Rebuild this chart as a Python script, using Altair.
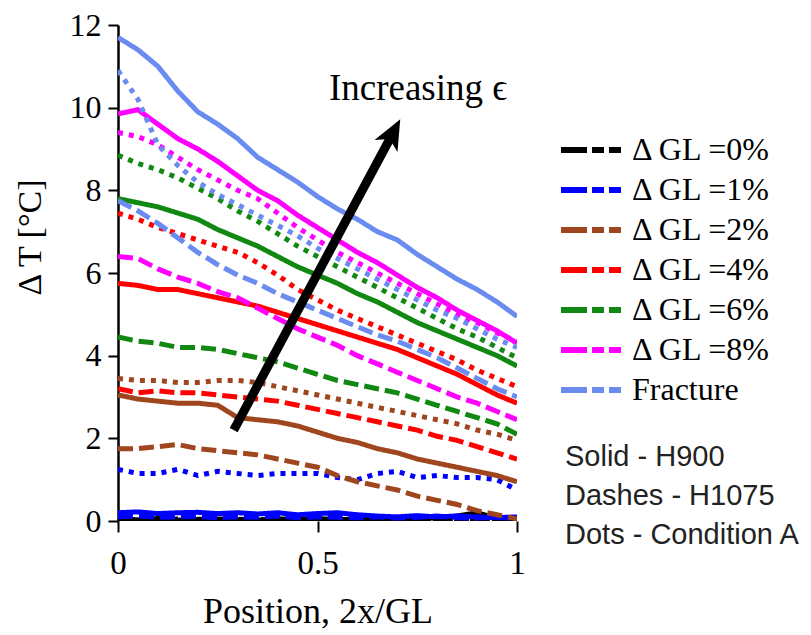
import altair as alt
import pandas as pd

# ---------------- data ----------------
positions = [0.0, 0.05, 0.1, 0.15, 0.2, 0.25, 0.3, 0.35, 0.4, 0.45, 0.5,
             0.55, 0.6, 0.65, 0.7, 0.75, 0.8, 0.85, 0.9, 0.95, 1.0]

levels = ["\u0394 GL =0%", "\u0394 GL =1%", "\u0394 GL =2%", "\u0394 GL =4%",
          "\u0394 GL =6%", "\u0394 GL =8%", "\u00a0\u00a0\u00a0Fracture"]
level_colors = ["#000000", "#0000ff", "#a0461e", "#ff0000", "#118811", "#ff00ff", "#6a8cf0"]
styles = ["Solid", "Dashes", "Dots"]

gl0_solid = [0.05, 0.03, 0.06, 0.02, 0.04, 0.05, 0.03, 0.02, 0.05, 0.04, 0.06,
             0.03, 0.05, 0.07, 0.04, 0.06, 0.08, 0.12, 0.2, 0.06, 0.04]
gl0_dash = [0.02, 0.03, 0.02, 0.04, 0.03, 0.02, 0.03, 0.02, 0.03, 0.04, 0.02,
            0.03, 0.02, 0.04, 0.03, 0.02, 0.03, 0.05, 0.04, 0.03, 0.02]
gl0_dots = [0.04, 0.02, 0.03, 0.05, 0.02, 0.03, 0.04, 0.03, 0.02, 0.05, 0.03,
            0.04, 0.03, 0.02, 0.04, 0.03, 0.05, 0.03, 0.04, 0.02, 0.03]

gl1_solid = [0.2, 0.22, 0.18, 0.2, 0.21, 0.18, 0.2, 0.17, 0.2, 0.15, 0.18,
             0.2, 0.15, 0.12, 0.1, 0.13, 0.1, 0.12, 0.1, 0.08, 0.1]
gl1_dash = [0.1, 0.12, 0.09, 0.1, 0.11, 0.08, 0.1, 0.09, 0.12, 0.08, 0.1,
            0.09, 0.08, 0.1, 0.07, 0.09, 0.12, 0.08, 0.07, 0.09, 0.06]
gl1_dots = [1.25, 1.15, 1.15, 1.25, 1.1, 1.2, 1.15, 1.1, 1.15, 1.15, 1.15,
            1.05, 1.0, 1.15, 1.2, 1.05, 1.1, 1.05, 1.05, 1.0, 0.75]

gl2_solid = [3.05, 2.95, 2.9, 2.85, 2.85, 2.8, 2.5, 2.45, 2.4, 2.3, 2.15,
             2.0, 1.9, 1.75, 1.65, 1.5, 1.4, 1.3, 1.2, 1.1, 0.95]
gl2_dash = [1.75, 1.75, 1.8, 1.85, 1.75, 1.7, 1.65, 1.6, 1.5, 1.4, 1.3,
            1.1, 0.95, 0.85, 0.75, 0.6, 0.5, 0.4, 0.25, 0.15, 0.05]
gl2_dots = [3.45, 3.4, 3.4, 3.35, 3.35, 3.4, 3.4, 3.35, 3.25, 3.15, 3.05,
            2.95, 2.85, 2.75, 2.65, 2.55, 2.45, 2.35, 2.2, 2.1, 1.95]

gl4_solid = [5.75, 5.7, 5.6, 5.6, 5.5, 5.4, 5.3, 5.2, 5.05, 4.9, 4.75,
             4.6, 4.45, 4.3, 4.15, 3.95, 3.75, 3.55, 3.3, 3.05, 2.85]
gl4_dash = [3.2, 3.1, 3.15, 3.1, 3.1, 3.05, 3.0, 2.95, 2.9, 2.8, 2.7,
            2.6, 2.5, 2.4, 2.3, 2.2, 2.05, 1.95, 1.8, 1.65, 1.5]
gl4_dots = [7.45, 7.3, 7.1, 6.95, 6.8, 6.65, 6.5, 6.25, 5.95, 5.6, 5.35,
            5.1, 4.9, 4.7, 4.5, 4.3, 4.1, 3.9, 3.65, 3.45, 3.25]

gl6_solid = [7.8, 7.7, 7.6, 7.45, 7.3, 7.05, 6.85, 6.65, 6.4, 6.15, 5.95,
             5.75, 5.5, 5.3, 5.05, 4.8, 4.6, 4.4, 4.2, 4.0, 3.75]
gl6_dash = [4.45, 4.35, 4.3, 4.2, 4.2, 4.15, 4.05, 3.95, 3.85, 3.7, 3.55,
            3.4, 3.3, 3.2, 3.1, 2.95, 2.8, 2.65, 2.5, 2.35, 2.1]
gl6_dots = [8.85, 8.65, 8.5, 8.3, 8.05, 7.8, 7.5, 7.25, 6.95, 6.65, 6.4,
            6.15, 5.9, 5.65, 5.4, 5.15, 4.9, 4.65, 4.45, 4.2, 3.95]

gl8_solid = [9.85, 9.95, 9.6, 9.25, 9.0, 8.7, 8.35, 8.0, 7.75, 7.4, 7.1,
             6.8, 6.5, 6.25, 5.95, 5.65, 5.4, 5.1, 4.85, 4.6, 4.3]
gl8_dash = [6.4, 6.35, 6.1, 5.9, 5.75, 5.55, 5.4, 5.15, 4.9, 4.65, 4.45,
            4.25, 4.0, 3.8, 3.6, 3.4, 3.2, 3.0, 2.85, 2.65, 2.45]
gl8_dots = [9.4, 9.3, 9.1, 8.8, 8.5, 8.25, 8.0, 7.8, 7.45, 7.1, 6.8,
            6.5, 6.25, 6.0, 5.75, 5.5, 5.25, 5.0, 4.8, 4.55, 4.35]

frac_solid = [11.7, 11.4, 11.0, 10.4, 9.9, 9.6, 9.25, 8.8, 8.5, 8.2, 7.85,
              7.55, 7.3, 7.0, 6.8, 6.45, 6.15, 5.85, 5.6, 5.3, 4.95]
frac_dash = [7.75, 7.5, 7.2, 6.85, 6.5, 6.2, 5.95, 5.75, 5.5, 5.3, 5.1,
             4.9, 4.7, 4.5, 4.35, 4.15, 3.95, 3.7, 3.45, 3.2, 3.0]
frac_dots = [10.9, 10.2, 9.1, 8.6, 8.2, 7.9, 7.65, 7.4, 7.15, 6.9, 6.6,
             6.35, 6.1, 5.85, 5.6, 5.35, 5.1, 4.9, 4.65, 4.4, 4.2]

series = [
    (levels[0], "Solid", gl0_solid), (levels[0], "Dashes", gl0_dash), (levels[0], "Dots", gl0_dots),
    (levels[1], "Solid", gl1_solid), (levels[1], "Dashes", gl1_dash), (levels[1], "Dots", gl1_dots),
    (levels[2], "Solid", gl2_solid), (levels[2], "Dashes", gl2_dash), (levels[2], "Dots", gl2_dots),
    (levels[3], "Solid", gl4_solid), (levels[3], "Dashes", gl4_dash), (levels[3], "Dots", gl4_dots),
    (levels[4], "Solid", gl6_solid), (levels[4], "Dashes", gl6_dash), (levels[4], "Dots", gl6_dots),
    (levels[5], "Solid", gl8_solid), (levels[5], "Dashes", gl8_dash), (levels[5], "Dots", gl8_dots),
    (levels[6], "Solid", frac_solid), (levels[6], "Dashes", frac_dash), (levels[6], "Dots", frac_dots),
]

arrow_tail = (0.29, 2.2)
arrow_tip = (0.687, 9.35)
arrow_label = "Increasing \u03f5"
label_pos = (0.752, 10.46)
notes = "Solid - H900\nDashes - H1075\nDots - Condition A"

# ---------------- build table ----------------
rows = []
for lvl, st, vals in series:
    for p, v in zip(positions, vals):
        rows.append({"pos": p, "dT": v, "level": lvl, "style": st})
df = pd.DataFrame(rows)

SERIF = "Liberation Serif"
SANS = "Liberation Sans"

xscale = alt.Scale(domain=[0, 1], nice=False)
yscale = alt.Scale(domain=[0, 12], nice=False)

lines = alt.Chart(df).mark_line(strokeWidth=5, clip=True).encode(
    x=alt.X("pos:Q", scale=xscale,
            axis=alt.Axis(values=[0, 0.5, 1], format="~g", domain=False, grid=False,
                          tickSize=11, tickWidth=2, tickColor="black",
                          labelFont=SERIF, labelFontSize=33, labelColor="black",
                          labelPadding=15, labelFlush=False,
                          title="Position, 2x/GL", titleFont=SERIF, titleFontSize=36,
                          titleFontWeight="normal", titleColor="black",
                          titleY=101, titleBaseline="alphabetic")),
    y=alt.Y("dT:Q", scale=yscale,
            axis=alt.Axis(values=[0, 2, 4, 6, 8, 10, 12], grid=False,
                          domain=True, domainColor="black", domainWidth=2.5,
                          tickSize=10, tickWidth=2, tickColor="black",
                          labelFont=SERIF, labelFontSize=32, labelColor="black",
                          labelPadding=7, labelFlush=False,
                          title="\u0394 T [\u00b0C]", titleFont=SERIF, titleFontSize=34,
                          titleFontWeight="normal", titleColor="black",
                          titleX=-88, titleY=212, titleAngle=270,
                          titleAlign="center", titleBaseline="middle")),
    color=alt.Color("level:N", sort=levels,
                    scale=alt.Scale(domain=levels, range=level_colors),
                    legend=alt.Legend(title=None, orient="none", legendX=440, legendY=110,
                                      symbolType="stroke", symbolSize=3600,
                                      symbolStrokeWidth=6, symbolDash=[26, 5, 12, 5, 12],
                                      clipHeight=30, rowPadding=8, padding=0,
                                      labelFont=SERIF, labelFontSize=32, labelColor="black",
                                      labelOffset=8, labelLimit=400)),
    strokeDash=alt.StrokeDash("style:N",
                              scale=alt.Scale(domain=styles, range=[[1, 0], [15, 6], [5, 6]]),
                              legend=None),
)

arrow_df = pd.DataFrame({"x": [arrow_tail[0]], "y": [arrow_tail[1]],
                         "x2": [arrow_tip[0]], "y2": [arrow_tip[1]]})
shaft = alt.Chart(arrow_df).mark_rule(strokeWidth=9, color="black").encode(
    x=alt.X("x:Q", scale=xscale), y=alt.Y("y:Q", scale=yscale),
    x2="x2:Q", y2="y2:Q")
head = alt.Chart(arrow_df).mark_point(
    shape="M0,-1L0.75,0.75L0,0.3L-0.75,0.75Z", filled=True, color="black",
    opacity=1, size=1200, angle=28).encode(
    x=alt.X("x2:Q", scale=xscale), y=alt.Y("y2:Q", scale=yscale))

label_df = pd.DataFrame({"x": [label_pos[0]], "y": [label_pos[1]], "t": [arrow_label]})
label = alt.Chart(label_df).mark_text(font=SERIF, fontSize=37, color="black",
                                      align="center", baseline="middle").encode(
    x=alt.X("x:Q", scale=xscale), y=alt.Y("y:Q", scale=yscale), text="t:N")

notes_df = pd.DataFrame({"t": [notes]})
note = alt.Chart(notes_df).mark_text(font=SANS, fontSize=29, color="#222222",
                                     align="left", baseline="top",
                                     lineBreak="\n", lineHeight=39).encode(
    x=alt.value(447), y=alt.value(418), text="t:N")

chart = alt.layer(lines, shaft, head, label, note).properties(
    width=399, height=496,
    autosize=alt.AutoSizeParams(type="none"),
    padding={"left": 110, "top": 17, "right": 286, "bottom": 114},
    background="white",
).configure_view(stroke=None)

chart.save("out.html", embed_options={"renderer": "svg", "actions": False})
